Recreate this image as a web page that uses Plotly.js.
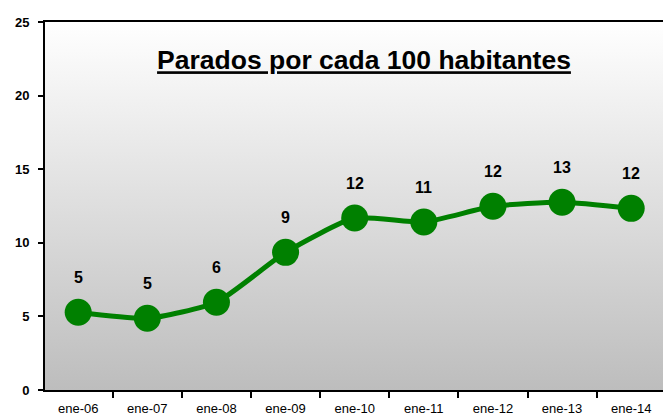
<!DOCTYPE html>
<html>
<head>
<meta charset="utf-8">
<script src="https://cdn.plot.ly/plotly-3.0.1.min.js"></script>
<style>html,body{margin:0;padding:0;background:#fff;}</style>
</head>
<body>
<div id="chart" style="width:663px;height:420px;"></div>
<script>
const categories = ["ene-06","ene-07","ene-08","ene-09","ene-10","ene-11","ene-12","ene-13","ene-14"];
const parados = [5.28, 4.87, 5.96, 9.35, 11.68, 11.41, 12.48, 12.75, 12.34];
const labels = ["5","5","6","9","12","11","12","13","12"];
const yTicks = [0, 5, 10, 15, 20, 25];

const svg = '<svg xmlns="http://www.w3.org/2000/svg" width="100" height="100" preserveAspectRatio="none">' +
  '<defs><linearGradient id="g" x1="0" y1="0" x2="0" y2="1">' +
  '<stop offset="0" stop-color="#ffffff"/><stop offset="1" stop-color="#bdbdbd"/>' +
  '</linearGradient></defs><rect width="100" height="100" fill="url(#g)"/></svg>';
const bg = 'data:image/svg+xml;base64,' + btoa(svg);

const trace = {
  x: categories,
  y: parados,
  type: 'scatter',
  mode: 'lines+markers',
  line: {color: '#008000', width: 5, shape: 'spline', smoothing: 0.55},
  marker: {color: '#008000', size: 27},
  hoverinfo: 'skip'
};

const annotations = categories.map((c, i) => ({
  x: c, y: parados[i], xref: 'x', yref: 'y',
  text: labels[i], showarrow: false, yshift: 35, yanchor: 'middle',
  font: {family: 'Liberation Sans, Arial, sans-serif', size: 16, color: '#000', weight: 'bold'}
}));

const layout = {
  width: 663, height: 420,
  margin: {l: 45, r: 0, t: 22, b: 30, pad: 0},
  paper_bgcolor: '#ffffff',
  plot_bgcolor: 'rgba(0,0,0,0)',
  showlegend: false,
  title: {
    text: 'Parados por cada 100 habitantes',
    xref: 'paper', xanchor: 'center',
    yref: 'container', yanchor: 'middle',
    font: {family: 'Liberation Sans, Arial, sans-serif', size: 26.5, color: '#000', weight: 'bold', lineposition: 'under'}
  },
  images: [{
    source: bg, xref: 'paper', yref: 'paper', x: 0, y: 1, sizex: 1, sizey: 1,
    sizing: 'stretch', xanchor: 'left', yanchor: 'top', layer: 'below'
  }],
  xaxis: {
    type: 'category',
    range: [-0.48, 8.46],
    showgrid: false, zeroline: false,
    showline: true, linecolor: '#000', linewidth: 2, mirror: true,
    ticks: 'outside', tickson: 'boundaries', ticklen: 6, tickwidth: 2, tickcolor: '#000',
    tickfont: {family: 'Liberation Sans, Arial, sans-serif', size: 13, color: '#000'},
    ticklabelstandoff: 5
  },
  yaxis: {
    range: [0, 25],
    tickvals: yTicks,
    showgrid: false, zeroline: false,
    showline: true, linecolor: '#000', linewidth: 2,
    ticks: 'outside', ticklen: 5, tickwidth: 2, tickcolor: '#000',
    tickfont: {family: 'Liberation Sans, Arial, sans-serif', size: 13, color: '#000', weight: 'bold'},
    ticklabelstandoff: 6
  },
  annotations: annotations
};

layout.title.x = (364 - 45) / (663 - 45);
layout.title.y = 1 - 60 / 420;

Plotly.newPlot('chart', [trace], layout, {displayModeBar: false, staticPlot: true});
</script>
</body>
</html>
